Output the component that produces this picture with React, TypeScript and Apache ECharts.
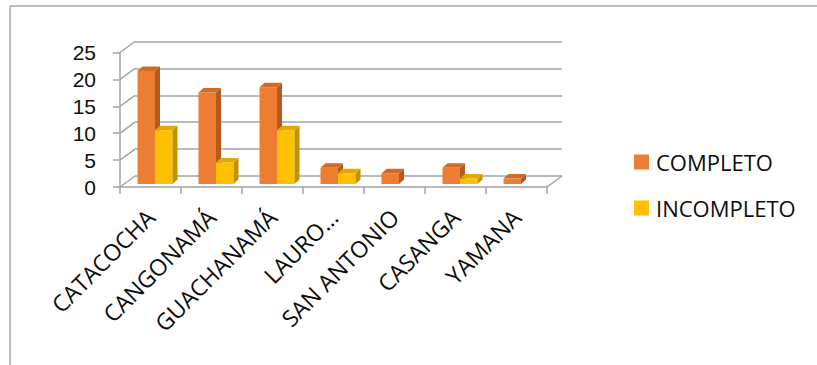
import React, { useEffect, useRef } from "react";
import * as echarts from "echarts";

const categories = ["CATACOCHA", "CANGONAMÁ", "GUACHANAMÁ", "LAURO…", "SAN ANTONIO", "CASANGA", "YAMANA"];
const completo = [21, 17, 18, 3, 2, 3, 1];
const incompleto = [10, 4, 10, 2, 0, 1, 0];
const yTicks = [0, 5, 10, 15, 20, 25];
const seriesNames = ["COMPLETO", "INCOMPLETO"];

const DEPTH_X = 15;
const DEPTH_Y = -11;
const BAR_FRONT_X = 4.5;
const BAR_FRONT_Y = -3;
const BAR_DEPTH_X = 5;
const BAR_DEPTH_Y = -4.5;
const GRID_COLOR = "#A3A3A3";
const FONT = "'Open Sans', sans-serif";

const palettes = [
  { front: "#ED7D31", side: "#B35A20", top: "#D06A26" },
  { front: "#FFC000", side: "#C29200", top: "#E2AA00" },
];

function makeBarSeries(si: number, values: number[]) {
  return {
    type: "custom",
    name: seriesNames[si],
    xAxisIndex: 0,
    yAxisIndex: 0,
    itemStyle: { color: palettes[si].front },
    data: values.map((v, i) => [i, v]),
    renderItem: (params: any, api: any) => {
      const i = api.value(0);
      const v = api.value(1);
      if (!v || v <= 0) return null;
      const top = api.coord([i, v]);
      const base = api.coord([i, 0]);
      const bw = api.size([1, 0])[0] * 0.287;
      const x0 = top[0] + BAR_FRONT_X + (si === 0 ? -bw : 0);
      const yt = top[1] + BAR_FRONT_Y;
      const yb = base[1] + BAR_FRONT_Y;
      const p = palettes[si];
      return {
        type: "group",
        children: [
          {
            type: "rect",
            shape: { x: x0, y: yt, width: bw, height: yb - yt },
            style: { fill: p.front },
          },
          {
            type: "polygon",
            shape: {
              points: [
                [x0 + bw, yt],
                [x0 + bw + BAR_DEPTH_X, yt + BAR_DEPTH_Y],
                [x0 + bw + BAR_DEPTH_X, yb + BAR_DEPTH_Y],
                [x0 + bw, yb],
              ],
            },
            style: { fill: p.side },
          },
          {
            type: "polygon",
            shape: {
              points: [
                [x0, yt],
                [x0 + BAR_DEPTH_X, yt + BAR_DEPTH_Y],
                [x0 + bw + BAR_DEPTH_X, yt + BAR_DEPTH_Y],
                [x0 + bw, yt],
              ],
            },
            style: { fill: p.top },
          },
        ],
      };
    },
  };
}

export default function App() {
  const ref = useRef<HTMLDivElement>(null);
  useEffect(() => {
    if (!ref.current) return;
    const chart = echarts.init(ref.current, null, { renderer: "svg" });
    const wallData = yTicks.map((t) => [0, t]).concat([[categories.length, 0]]);
    chart.setOption({
      animation: false,
      backgroundColor: "#ffffff",
      textStyle: { fontFamily: FONT },
      graphic: [
        { type: "line", shape: { x1: 10, y1: 6, x2: 817, y2: 6 }, style: { stroke: "#A6A6A6", lineWidth: 1.5 } },
        { type: "line", shape: { x1: 10, y1: 6, x2: 10, y2: 365 }, style: { stroke: "#A6A6A6", lineWidth: 1.5 } },
      ],
      legend: {
        orient: "vertical",
        left: 634,
        top: 151,
        padding: 0,
        itemWidth: 15,
        itemHeight: 15,
        itemGap: 24,
        icon: "rect",
        data: seriesNames,
        textStyle: { fontFamily: FONT, fontSize: 22, color: "#0D0D0D", padding: [0, 0, 0, 2] },
      },
      grid: [
        { left: 120, top: 52.5, width: 427, height: 134.5 },
        { left: 120 + DEPTH_X, top: 52.5 + DEPTH_Y, width: 427, height: 134.5 },
      ],
      xAxis: [
        {
          type: "category",
          gridIndex: 0,
          data: categories,
          boundaryGap: true,
          axisLine: { show: true, lineStyle: { color: GRID_COLOR, width: 1.5 } },
          axisTick: { show: true, length: 7, lineStyle: { color: GRID_COLOR, width: 1.5 } },
          axisLabel: {
            rotate: 45,
            interval: 0,
            margin: 26,
            fontFamily: FONT,
            fontSize: 23,
            color: "#0D0D0D",
          },
        },
        { type: "value", gridIndex: 0, min: 0, max: categories.length, show: false },
        { type: "category", gridIndex: 1, data: categories, show: false },
      ],
      yAxis: [
        {
          type: "value",
          gridIndex: 0,
          min: 0,
          max: 25,
          interval: 5,
          axisLine: { show: true, lineStyle: { color: GRID_COLOR, width: 1.5 } },
          axisTick: { show: true, length: 7, lineStyle: { color: GRID_COLOR, width: 1.5 } },
          axisLabel: {
            margin: 24,
            fontFamily: "'Liberation Sans', Arial, sans-serif",
            fontSize: 21,
            lineHeight: 22,
            color: "#0D0D0D",
          },
          splitLine: { show: false },
        },
        {
          type: "value",
          gridIndex: 1,
          min: 0,
          max: 25,
          interval: 5,
          axisLine: { show: false },
          axisTick: { show: false },
          axisLabel: { show: false },
          splitLine: { show: true, lineStyle: { color: GRID_COLOR, width: 1.5 } },
        },
      ],
      series: [
        {
          type: "custom",
          name: "walls",
          xAxisIndex: 1,
          yAxisIndex: 0,
          silent: true,
          data: wallData,
          renderItem: (params: any, api: any) => {
            const p = api.coord([api.value(0), api.value(1)]);
            return {
              type: "line",
              shape: { x1: p[0], y1: p[1], x2: p[0] + DEPTH_X, y2: p[1] + DEPTH_Y },
              style: { stroke: GRID_COLOR, lineWidth: 1.5 },
            };
          },
        },
        makeBarSeries(0, completo),
        makeBarSeries(1, incompleto),
      ],
    });
    return () => chart.dispose();
  }, []);
  return (
    <div
      ref={ref}
      style={{ position: "fixed", left: 0, top: 0, width: 817, height: 365, background: "#fff" }}
    />
  );
}
